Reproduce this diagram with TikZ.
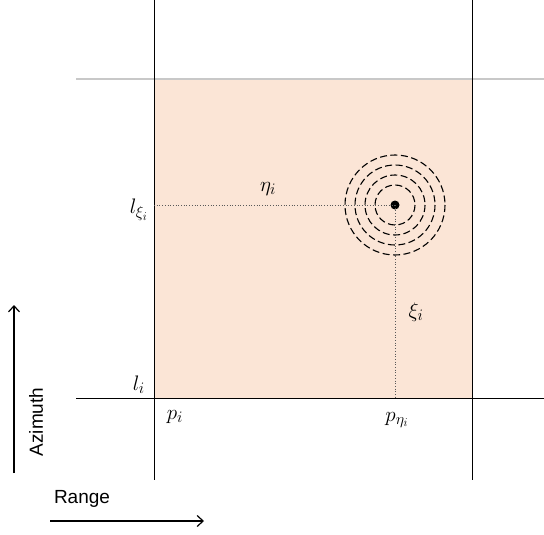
\documentclass[tikz,border=0pt]{standalone}
\usepackage{fontspec}
\setsansfont{Liberation Sans}
\usepackage{amsmath}
\usepackage{fix-cm}
\DeclareMathSizes{21}{21}{16}{12}
\usetikzlibrary{positioning, calc}
\usetikzlibrary{arrows.meta}
\definecolor{cellfill}{RGB}{251,229,214}
\definecolor{gridgray}{RGB}{200,200,200}

\begin{document}
\begin{tikzpicture}[x=1pt,y=-1pt,>={Straight Barb[length=6pt,width=11pt]},
  lbl/.style={font=\fontsize{21}{24}\selectfont, inner sep=1pt},
  axislbl/.style={font=\sffamily\fontsize{19}{21}\selectfont, inner sep=0pt},
  ring/.style={line width=1.1pt, dash pattern=on 7pt off 3.5pt},
  guide/.style={gray!70!black, line width=0.7pt, dotted}]

\useasboundingbox (0,0) rectangle (544,535);

% --- Cella di risoluzione
\coordinate (c tl) at (154,79);
\coordinate (c br) at (472,398);
\fill[cellfill] (c tl) rectangle (c br);

% --- Griglia
\coordinate (g top) at (76,79);
\coordinate (g topend) at (544,79);
\draw[gridgray, line width=1.2pt] (g top) -- (g topend);
\coordinate (g bot) at (76,398);
\coordinate (g botend) at (544,398);
\draw[line width=1pt] (g bot) -- (g botend);
\foreach \xx/\nm in {154/left, 472/right}{
  \coordinate (v \nm a) at (\xx,0);
  \coordinate (v \nm b) at (\xx,480);
  \draw[line width=1pt] (v \nm a) -- (v \nm b);
}

% --- Bersaglio e cerchi
\node[circle, fill, inner sep=0pt, minimum size=9pt] (tgt) at (395,205) {};
\foreach \r in {20,30,40,50}
  \draw[ring] (tgt.center) circle (\r);

% --- Linee guida
\coordinate (h start) at (154,205);
\coordinate (v end) at (395,398);
\draw[guide] (h start) -- (tgt.center);
\draw[guide] (tgt.center) -- (v end);

% --- Etichette
\node[lbl, left] (lxi) at (149,210) {$l_{\xi_i}$};
\node[lbl] (eta) at (268,189) {$\eta_i$};
\node[lbl] (xi) at (416,312) {$\xi_i$};
\node[lbl, left] (li) at (146,385) {$l_i$};
\node[lbl] (pi) at (175,417) {$p_i$};
\node[lbl] (peta) at (397,420) {$p_{\eta_i}$};

% --- Assi
\coordinate (az a) at (14,473);
\coordinate (az b) at (14,305);
\draw[->, line width=1.2pt] (az a) -- (az b);
\node[axislbl, rotate=90] (az) at (36,422) {Azimuth};
\coordinate (rg a) at (50,521);
\coordinate (rg b) at (204,521);
\draw[->, line width=1.2pt] (rg a) -- (rg b);
\node[axislbl] (rg) at (82,499) {Range};
\end{tikzpicture}
\end{document}
